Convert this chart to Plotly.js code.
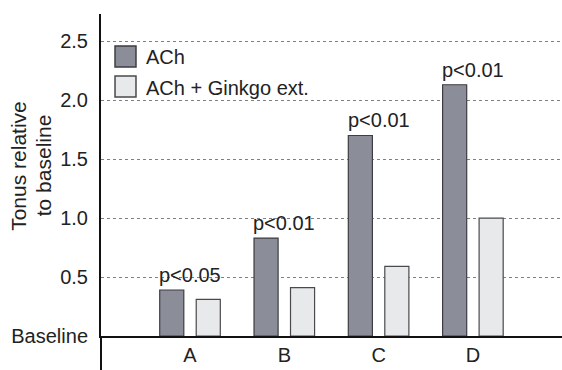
<!DOCTYPE html>
<html>
<head>
<meta charset="utf-8">
<script src="https://cdn.plot.ly/plotly-3.0.1.min.js"></script>
<style>html,body{margin:0;padding:0;background:#fff;}#chart{width:562px;height:370px;}</style>
</head>
<body>
<div id="chart"></div>
<script>
var categories = ["A", "B", "C", "D"];
var achValues = [0.39, 0.83, 1.70, 2.13];
var ginkgoValues = [0.31, 0.41, 0.59, 1.00];
var pLabels = ["p<0.05", "p<0.01", "p<0.01", "p<0.01"];
var seriesNames = ["ACh", "ACh + Ginkgo ext."];
var yTickVals = [0, 0.5, 1.0, 1.5, 2.0, 2.5];
var yTickText = ["Baseline", "0.5", "1.0", "1.5", "2.0", "2.5"];
var yTitleLines = ["Tonus relative", "to baseline"];

var font = "Liberation Sans, Arial, Helvetica, sans-serif";
var txt = "#222";
var darkFill = "#8b8d98", darkLine = "#3d3d42";
var lightFill = "#e7e9eb", lightLine = "#4a4a4e";

var traces = [
  {type: "bar", name: seriesNames[0], x: categories, y: achValues,
   marker: {color: darkFill, line: {color: darkLine, width: 1.2}}},
  {type: "bar", name: seriesNames[1], x: categories, y: ginkgoValues,
   marker: {color: lightFill, line: {color: lightLine, width: 1.2}}}
];

var annotations = categories.map(function (c, i) {
  return {x: c, y: achValues[i], xref: "x", yref: "y", text: pLabels[i],
    showarrow: false, yanchor: "bottom", yshift: 2,
    font: {family: font, size: 20, color: txt}};
});

// y-axis title (two rotated lines)
[[-0.179, yTitleLines[0]], [-0.126, yTitleLines[1]]].forEach(function (p) {
  annotations.push({xref: "paper", yref: "paper", x: p[0], y: 0.53,
    text: p[1], textangle: -90, showarrow: false, xanchor: "center", yanchor: "middle",
    font: {family: font, size: 21, color: txt}});
});

// legend
var legendRows = [
  {name: seriesNames[0], fill: darkFill, line: darkLine, y0: 0.8354, y1: 0.9006, ty: 0.866},
  {name: seriesNames[1], fill: lightFill, line: lightLine, y0: 0.7422, y1: 0.8075, ty: 0.771}
];
var shapes = [
  {type: "line", xref: "paper", yref: "paper", x0: 0, x1: 0, y0: -0.11, y1: 0,
   line: {color: "#111", width: 2}}
];
legendRows.forEach(function (r) {
  shapes.push({type: "rect", xref: "paper", yref: "paper", x0: 0.0304, x1: 0.0759,
    y0: r.y0, y1: r.y1, fillcolor: r.fill, line: {color: r.line, width: 1.5}});
  annotations.push({xref: "paper", yref: "paper", x: 0.094, y: r.ty, text: r.name,
    showarrow: false, xanchor: "left", yanchor: "middle",
    font: {family: font, size: 20, color: txt}});
});

var layout = {
  width: 562, height: 370,
  margin: {l: 101, r: 0, t: 14, b: 34},
  paper_bgcolor: "#ffffff", plot_bgcolor: "#ffffff",
  barmode: "group", bargap: 0.226, bargroupgap: 0.34,
  showlegend: false,
  xaxis: {type: "category", range: [-0.944, 3.945], showgrid: false,
    showline: true, linecolor: "#111", linewidth: 2, ticks: "", zeroline: false,
    tickfont: {family: font, size: 20, color: txt}, fixedrange: true},
  yaxis: {range: [0, 2.73], tickvals: yTickVals, ticktext: yTickText,
    showgrid: true, gridcolor: "#808080", griddash: "dot", gridwidth: 1,
    showline: true, linecolor: "#111", linewidth: 2, zeroline: false,
    ticks: "outside", ticklen: 7, tickcolor: "rgba(0,0,0,0)",
    tickfont: {family: font, size: 20, color: txt}},
  annotations: annotations,
  shapes: shapes
};

Plotly.newPlot("chart", traces, layout, {displayModeBar: false, staticPlot: true});
</script>
</body>
</html>
